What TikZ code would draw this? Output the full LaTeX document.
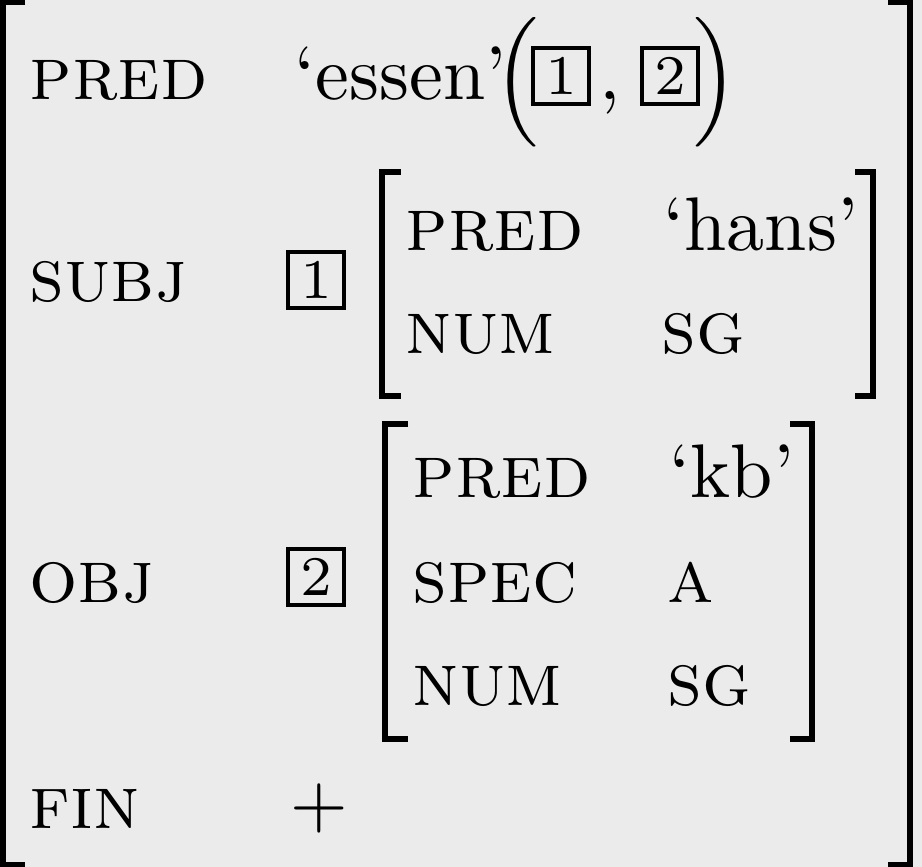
\documentclass[tikz,border=0pt]{standalone}
\usepackage{amsmath}
\definecolor{avmgray}{RGB}{235,235,235}

\begin{document}
\fontsize{9.5}{11.4}\selectfont
\begin{tikzpicture}[x=0.125pt, y=-0.125pt,
  feat/.style={anchor=base west, inner sep=0pt, font=\scshape},
  val/.style={anchor=base west, inner sep=0pt},
  tagbox/.style={draw, line width=0.4pt, minimum size=7pt, inner sep=0pt, font=\scriptsize},
  brack/.style={line width=0.75pt}]
  % Define the background
  \fill[avmgray] (0,0) rectangle (922,867);
  \useasboundingbox (0,0) rectangle (922,867);
  % Outer matrix
  \draw[brack] (25,2) -- (3,2) -- (3,865) -- (25,865);
  \draw[brack] (888,2) -- (910,2) -- (910,865) -- (888,865);
  \node[feat] (pred) at (28,100) {pred};
  \node[val] (essen) at (293,100) {‘essen’};
  \node[inner sep=0pt] (lpar) at (517,82) {$\Big($};
  \node[tagbox] (tagA) at (561,76) {1};
  \node[val] (comma) at (598,100) {,};
  \node[tagbox] (tagB) at (670,76) {2};
  \node[inner sep=0pt] (rpar) at (716,82) {$\Big)$};
  \node[feat] (subj) at (28,302) {subj};
  \node[feat] (obj) at (28,602) {obj};
  \node[feat] (fin) at (28,828) {fin};
  \node (plus) at (319,808) {$+$};
  % Subject matrix
  \node[tagbox] (tagS) at (316,280) {1};
  \draw[brack] (401,172) -- (382,172) -- (382,396) -- (401,396);
  \draw[brack] (855,172) -- (873,172) -- (873,396) -- (855,396);
  \node[feat] (spred) at (404,250) {pred};
  \node[feat] (snum) at (404,353) {num};
  \node[val] (hans) at (662,250) {‘hans’};
  \node[feat] (ssg) at (660,353) {sg};
  % Object matrix
  \node[tagbox] (tagO) at (316,577) {2};
  \draw[brack] (408,424) -- (385,424) -- (385,739) -- (408,739);
  \draw[brack] (790,424) -- (812,424) -- (812,739) -- (790,739);
  \node[feat] (opred) at (411,497) {pred};
  \node[feat] (ospec) at (411,602) {spec};
  \node[feat] (onum) at (411,705) {num};
  \node[val] (kb) at (668,497) {‘kb’};
  \node[feat] (oa) at (666,602) {a};
  \node[feat] (osg) at (666,705) {sg};
\end{tikzpicture}
\end{document}
